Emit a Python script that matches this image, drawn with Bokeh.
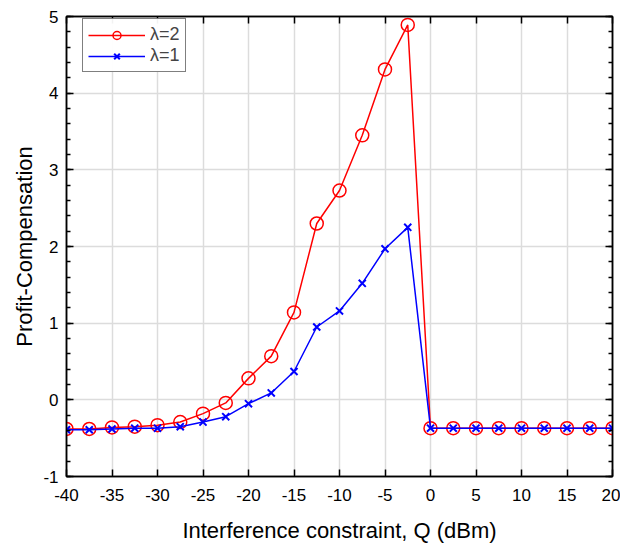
from bokeh.plotting import figure
from bokeh.models import (LinearAxis, SingleIntervalTicker, Range1d, Legend, LegendItem, CustomJSTickFormatter)
from bokeh.embed import file_html
from bokeh.resources import INLINE

q = [-40, -37.5, -35, -32.5, -30, -27.5, -25, -22.5, -20, -17.5, -15, -12.5, -10,
     -7.5, -5, -2.5, 0, 2.5, 5, 7.5, 10, 12.5, 15, 17.5, 20]
lam2 = [-0.38, -0.38, -0.36, -0.35, -0.33, -0.29, -0.18, -0.04, 0.28, 0.57, 1.14, 2.30, 2.73,
        3.45, 4.31, 4.89, -0.37, -0.37, -0.37, -0.37, -0.37, -0.37, -0.37, -0.37, -0.37]
lam1 = [-0.39, -0.39, -0.38, -0.37, -0.37, -0.35, -0.29, -0.22, -0.05, 0.09, 0.37, 0.95, 1.16,
        1.52, 1.97, 2.25, -0.37, -0.37, -0.37, -0.37, -0.37, -0.37, -0.37, -0.37, -0.37]
x_ticks = [-40, -35, -30, -25, -20, -15, -10, -5, 0, 5, 10, 15, 20]
y_ticks = [-1, 0, 1, 2, 3, 4, 5]

FONT = "Liberation Sans"

p = figure(width=620, height=545, output_backend="svg", toolbar_location=None,
           x_range=Range1d(-40, 20), y_range=Range1d(-1, 5),
           min_border_left=66, min_border_right=8, min_border_top=16, min_border_bottom=68,
           x_axis_label="Interference constraint, Q (dBm)", y_axis_label="Profit-Compensation")
p.outline_line_color = "black"
p.outline_line_width = 1.5
p.background_fill_color = "white"

p.xaxis.ticker = SingleIntervalTicker(interval=5, num_minor_ticks=0)
p.yaxis.ticker = SingleIntervalTicker(interval=1, num_minor_ticks=5)
hyphen = CustomJSTickFormatter(code="return String(tick)")
p.xaxis.formatter = hyphen
p.yaxis.formatter = hyphen

for ax in [p.xaxis[0], p.yaxis[0]]:
    ax.major_tick_in = 7
    ax.major_tick_out = 0
    ax.minor_tick_in = 4
    ax.minor_tick_out = 0
    ax.axis_line_width = 1.5
    ax.major_tick_line_width = 1.5
    ax.minor_tick_line_width = 1.5
    ax.major_label_text_font = FONT
    ax.major_label_text_font_size = "17px"
    ax.major_label_text_color = "black"
    ax.axis_label_text_font = FONT
    ax.axis_label_text_font_size = "22px"
    ax.axis_label_text_font_style = "normal"
    ax.axis_label_text_color = "black"
p.xaxis.minor_tick_line_color = None
p.xaxis.axis_label_standoff = 14
p.yaxis.axis_label_standoff = 3
p.xaxis.major_label_standoff = 12
p.yaxis.major_label_standoff = 8

blank = CustomJSTickFormatter(code="return ''")
top = LinearAxis(ticker=SingleIntervalTicker(interval=5, num_minor_ticks=0), formatter=blank,
                 major_label_standoff=0,
                 major_tick_in=7, major_tick_out=0, minor_tick_line_color=None,
                 axis_line_width=1.5, major_tick_line_width=1.5)
right = LinearAxis(ticker=SingleIntervalTicker(interval=1, num_minor_ticks=5), formatter=blank,
                   major_label_standoff=0,
                   major_tick_in=7, major_tick_out=0, minor_tick_in=4, minor_tick_out=0,
                   axis_line_width=1.5, major_tick_line_width=1.5, minor_tick_line_width=1.5)
p.add_layout(top, "above")
p.add_layout(right, "right")

p.xgrid.grid_line_color = "#dcdcdc"
p.ygrid.grid_line_color = "#dcdcdc"
p.xgrid.grid_line_width = 1.5
p.ygrid.grid_line_width = 1.5

r2l = p.line(q, lam2, line_color="red", line_width=1.5)
r2m = p.scatter(q, lam2, marker="circle", size=13, fill_color=None, line_color="red", line_width=1.5)
r1l = p.line(q, lam1, line_color="blue", line_width=1.5)
r1m = p.scatter(q, lam1, marker="x", size=10, line_color="blue", line_width=2)

legend = Legend(items=[LegendItem(label="λ=2", renderers=[r2l, r2m]),
                       LegendItem(label="λ=1", renderers=[r1l, r1m])])
legend.glyph_width = 57
legend.label_text_font = FONT
legend.label_text_font_size = "18px"
legend.border_line_color = "black"
legend.border_line_width = 1.5
legend.margin = 0
legend.location = (16, 404)
legend.padding = 5
legend.spacing = 0
legend.label_standoff = 5
legend.glyph_height = 20
legend.label_height = 20
p.add_layout(legend)

open("out.html", "w").write(file_html(p, INLINE))
